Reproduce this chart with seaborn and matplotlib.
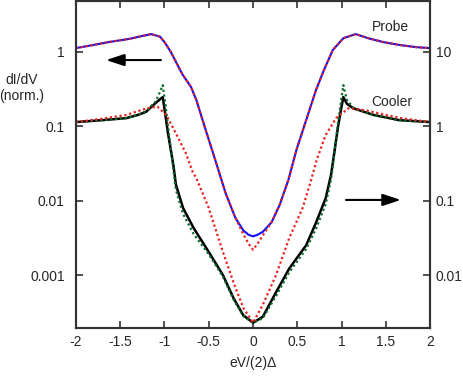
import numpy as np
import pandas as pd
import matplotlib
matplotlib.use("Agg")
import matplotlib.pyplot as plt
import seaborn as sns

# Probe curves (left axis units), log10 of dI/dV
probe_x = [-2.0, -1.8, -1.63, -1.4, -1.25, -1.15, -1.05, -1.0, -0.93, -0.87, -0.8, -0.7,
           -0.64, -0.53, -0.42, -0.31, -0.2, -0.11, -0.05, 0.0, 0.05, 0.11, 0.21, 0.3, 0.4,
           0.49, 0.6, 0.71, 0.8, 0.9, 1.02, 1.16, 1.3, 1.47, 1.65, 1.84, 2.0]
probe_meas_log = [0.047, 0.09, 0.128, 0.17, 0.21, 0.235, 0.2, 0.128, 0.0, -0.14, -0.3, -0.476,
                  -0.65, -1.07, -1.48, -1.9, -2.23, -2.4, -2.46, -2.48, -2.46, -2.42, -2.29, -2.06, -1.72,
                  -1.32, -0.92, -0.52, -0.25, 0.02, 0.18, 0.235, 0.18, 0.128, 0.09, 0.06, 0.047]
probe_fit_log = [0.047, 0.09, 0.128, 0.17, 0.21, 0.235, 0.2, 0.128, 0.0, -0.14, -0.3, -0.476,
                 -0.65, -1.07, -1.48, -1.9, -2.23, -2.45, -2.58, -2.66, -2.58, -2.47, -2.29, -2.06, -1.72,
                 -1.32, -0.92, -0.52, -0.25, 0.02, 0.18, 0.235, 0.18, 0.128, 0.09, 0.06, 0.047]

# Cooler curves (right axis units)
cooler_x = [-2.0, -1.7, -1.43, -1.3, -1.21, -1.1, -1.05, -1.02, -0.99, -0.96, -0.9, -0.87,
            -0.79, -0.67, -0.5, -0.34, -0.22, -0.11, 0.0, 0.11, 0.26, 0.41, 0.6, 0.71, 0.82,
            0.88, 0.9, 0.96, 0.99, 1.02, 1.06, 1.13, 1.36, 1.65, 2.0]
cooler_meas_log = [0.054, 0.08, 0.107, 0.15, 0.19, 0.31, 0.36, 0.39, 0.15, -0.1, -0.52, -0.79,
                   -1.1, -1.37, -1.69, -2.0, -2.31, -2.54, -2.64, -2.56, -2.23, -1.91, -1.6, -1.3, -0.97,
                   -0.66, -0.5, -0.01, 0.2, 0.39, 0.3, 0.24, 0.15, 0.08, 0.054]
cooler_bcs_log = [0.054, 0.08, 0.107, 0.15, 0.2, 0.33, 0.46, 0.55, 0.3, 0.0, -0.58, -0.86,
                  -1.18, -1.45, -1.72, -2.02, -2.33, -2.55, -2.64, -2.58, -2.28, -1.96, -1.65, -1.38, -1.05,
                  -0.72, -0.55, 0.05, 0.3, 0.55, 0.35, 0.25, 0.15, 0.08, 0.054]
cooler_fit_x = [-2.0, -1.7, -1.43, -1.2, -1.08, -0.98, -0.87, -0.76, -0.68, -0.64, -0.5, -0.34,
                -0.22, -0.11, 0.0, 0.11, 0.26, 0.41, 0.56, 0.65, 0.72, 0.82, 0.94, 1.08, 1.28,
                1.65, 2.0]
cooler_fit_log = [0.054, 0.1, 0.15, 0.24, 0.26, 0.15, -0.1, -0.36, -0.62, -0.7, -1.1, -1.69,
                  -2.1, -2.44, -2.64, -2.4, -2.0, -1.5, -1.1, -0.75, -0.45, -0.12, 0.11, 0.24, 0.21,
                  0.11, 0.054]

x_ticks = [-2, -1.5, -1, -0.5, 0, 0.5, 1, 1.5, 2]
x_labels = ["-2", "-1.5", "-1", "-0.5", "0", "0.5", "1", "1.5", "2"]
left_ticks = [1, 0.1, 0.01, 0.001]
left_labels = ["1", "0.1", "0.01", "0.001"]
right_ticks = [10, 1, 0.1, 0.01]
right_labels = ["10", "1", "0.1", "0.01"]

sns.set_style("white")
plt.rcParams['font.family'] = ['Liberation Sans', 'DejaVu Sans']
plt.rcParams['font.size'] = 10

probe = pd.DataFrame({'x': probe_x, 'meas': np.power(10.0, probe_meas_log),
                      'fit': np.power(10.0, probe_fit_log)})
cooler = pd.DataFrame({'x': cooler_x, 'meas': np.power(10.0, cooler_meas_log),
                       'bcs': np.power(10.0, cooler_bcs_log)})
cooler_fit = pd.DataFrame({'x': cooler_fit_x, 'fit': np.power(10.0, cooler_fit_log)})

fig = plt.figure(figsize=(4.63, 3.80), dpi=100)
ax = fig.add_axes([0.164, 0.137, 0.765, 0.86])
ax2 = ax.twinx()

red = '#e8201e'
dot = (0, (1, 1.2))

# probe on left axis
sns.lineplot(data=probe, x='x', y='meas', ax=ax, color='#1010ff', lw=1.5, sort=False, estimator=None)
sns.lineplot(data=probe, x='x', y='fit', ax=ax, color=red, lw=1.6, ls=dot, sort=False, estimator=None)

# cooler on right axis
sns.lineplot(data=cooler, x='x', y='meas', ax=ax2, color='black', lw=1.8, sort=False, estimator=None)
sns.lineplot(data=cooler, x='x', y='bcs', ax=ax2, color='#0a6b2a', lw=1.6, ls=dot, sort=False, estimator=None)
sns.lineplot(data=cooler_fit, x='x', y='fit', ax=ax2, color=red, lw=1.6, ls=dot, sort=False, estimator=None)

for a in (ax, ax2):
    a.set_yscale('log')
    a.yaxis.set_minor_locator(matplotlib.ticker.NullLocator())
    a.set_xlabel('')
    a.set_ylabel('')
ax.set_xlim(-2, 2)
ax.set_ylim(1.95e-4, 4.76)
ax2.set_ylim(1.95e-3, 47.6)

ax.set_xticks(x_ticks)
ax.set_xticklabels(x_labels)
ax.set_yticks(left_ticks)
ax.set_yticklabels(left_labels)
ax2.set_yticks(right_ticks)
ax2.set_yticklabels(right_labels)

ax.tick_params(axis='x', direction='in', top=True, bottom=True, length=5, width=1.2,
               pad=5, color='#333333', labelsize=10)
ax.tick_params(axis='y', direction='in', left=True, length=5, width=1.2, pad=8,
               color='#333333', labelsize=10)
ax2.tick_params(axis='y', direction='in', right=True, length=5, width=1.2, pad=4,
                color='#333333', labelsize=10)
for a in (ax, ax2):
    for s in a.spines.values():
        s.set_visible(True)
        s.set_linewidth(1.5)
        s.set_color('#333333')

# arrows showing which axis belongs to which curve
arr = dict(arrowstyle='-|>,head_length=1.1,head_width=0.36', color='black', lw=1.5,
           mutation_scale=10, shrinkA=0, shrinkB=0)
ax.annotate('', xy=(-1.66, 0.77), xytext=(-1.04, 0.77), arrowprops=arr)
ax2.annotate('', xy=(1.67, 0.102), xytext=(1.05, 0.102), arrowprops=arr)

ax.text(1.55, 2.13, 'Probe', ha='center', va='center', fontsize=10)
ax.text(1.57, 0.21, 'Cooler', ha='center', va='center', fontsize=10)

fig.text(0.047, 0.768, 'dI/dV\n(norm.)', ha='center', va='center', fontsize=10, linespacing=1.2)
fig.text(0.546, 0.045, 'eV/(2)Δ', ha='center', va='center', fontsize=10)

fig.savefig('out.png', dpi=100)
